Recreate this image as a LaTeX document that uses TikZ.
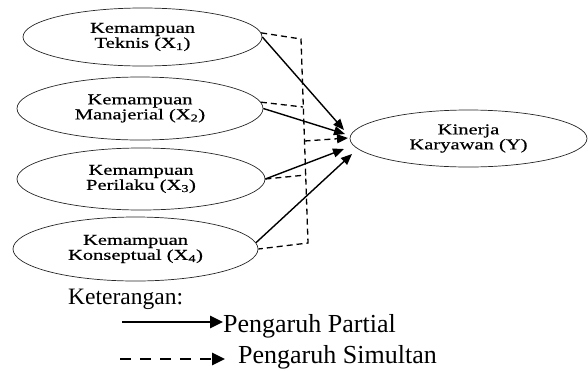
\documentclass[tikz,border=0pt]{standalone}
\usepackage{fontspec}
\setmainfont{Liberation Serif}
\newfontfamily\ellfont[FakeStretch=1.37,FakeBold=0.6]{Liberation Serif}
\usetikzlibrary{shapes.geometric,arrows.meta}
\begin{document}
\begin{tikzpicture}[x=1pt,y=-1pt,
  ell/.style={ellipse, draw=black!85, line width=0.7pt, inner sep=0pt, align=center,
    font=\ellfont\fontsize{15}{15}\selectfont},
  part/.style={line width=1.4pt, -{Triangle[length=11pt,width=9pt]}},
  simul/.style={line width=1.3pt, dash pattern=on 6pt off 4pt},
  simarrow/.style={simul, -{Triangle[length=11pt,width=9pt]}},
  legtext/.style={anchor=base west, inner sep=0pt},
  legsolid/.style={line width=2.7pt, -{Triangle[length=13pt,width=12pt]}},
  legdash/.style={line width=2.7pt, dash pattern=on 11pt off 9pt, -{Triangle[length=13pt,width=12pt]}}
]
\useasboundingbox (0,0) rectangle (588,370);

% ellipses
\node[ell, minimum width=239pt, minimum height=58pt] (e1) at (142.5,37) {Kemampuan\\Teknis (X\textsubscript{1})};
\node[ell, minimum width=246pt, minimum height=63pt] (e2) at (140,108.5) {Kemampuan\\Manajerial (X\textsubscript{2})};
\node[ell, minimum width=248pt, minimum height=62pt] (e3) at (141,179) {Kemampuan\\Perilaku (X\textsubscript{3})};
\node[ell, minimum width=245pt, minimum height=64pt] (e4) at (135.5,249) {Kemampuan\\Konseptual (X\textsubscript{4})};
\node[ell, minimum width=237pt, minimum height=57pt] (ey) at (468.5,138.5) {Kinerja\\Karyawan (Y)};

% arrow tips
\coordinate (t1) at (344,130);
\coordinate (t2) at (345,134);
\coordinate (tm) at (348,138);
\coordinate (t3) at (344,149);
\coordinate (t4) at (352,154);

% bus points
\coordinate (b1) at (301,39);
\coordinate (b2) at (303,107);
\coordinate (bm) at (304.5,141);
\coordinate (b3) at (306,175);
\coordinate (b4) at (308,243);

% partial (solid)
\draw[part] (e1.east) -- (t1);
\draw[part] (e2.east) -- (t2);
\draw[part] (e3.east) -- (t3);
\draw[part] (e4.3) -- (t4);

% simultaneous (dashed)
\draw[simul] (e1.2) -- (b1) -- (b4) -- (e4.east);
\draw[simul] (e2.3) -- (b2);
\draw[simul] (e3.east) -- (b3);
\draw[simarrow] (bm) -- (tm);

% legend
\node[legtext, font=\fontsize{23.5}{28}\selectfont] (ket) at (68,304) {Keterangan:};
\node[legtext, font=\fontsize{26}{30}\selectfont] (lp) at (223,332) {Pengaruh Partial};
\node[legtext, font=\fontsize{26}{30}\selectfont] (ls) at (238,363) {Pengaruh Simultan};
\coordinate (lps) at (122,322);
\coordinate (lpe) at (223,322);
\coordinate (lss) at (120,359);
\coordinate (lse) at (225,359);
\draw[legsolid] (lps) -- (lpe);
\draw[legdash] (lss) -- (lse);
\end{tikzpicture}
\end{document}
